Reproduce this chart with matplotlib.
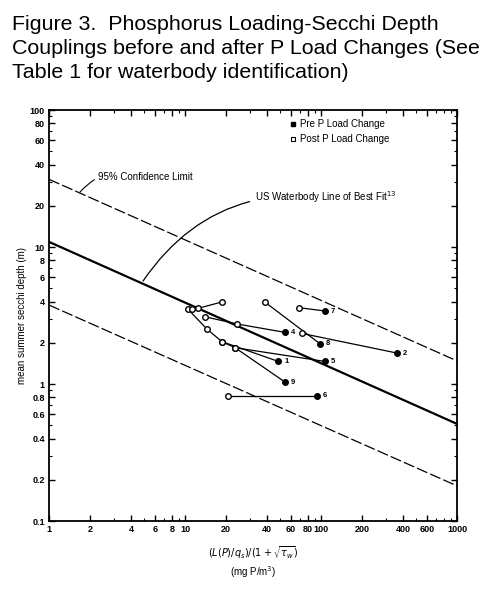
import numpy as np
import matplotlib.pyplot as plt
from matplotlib.ticker import FixedLocator, NullFormatter

plt.rcParams['font.family'] = ['Liberation Sans', 'DejaVu Sans']

# --- data --------------------------------------------------------------------
# reference lines (value at x=1 and x=1000)
line_x = [1, 1000]
best_fit_y = [10.9, 0.51]
upper_cl_y = [31.2, 1.47]
lower_cl_y = [3.77, 0.18]

# waterbody trajectories: open (post) points then the filled (pre) point
traj_labels = ['7', '8', '4', '2', '5', '1', '9', '6', '']
traj_x = [
    [68.1, 107],
    [38.7, 98.3],
    [13.9, 24.2, 54.4],
    [72.1, 362],
    [23.3, 107],
    [18.6, 48.5],
    [10.5, 14.4, 18.6, 23.3, 54.4],
    [20.6, 93],
    [12.5, 18.6],
]
traj_y = [
    [3.61, 3.41],
    [3.95, 1.96],
    [3.10, 2.74, 2.38],
    [2.34, 1.68],
    [1.84, 1.46],
    [2.04, 1.46],
    [3.51, 2.53, 2.04, 1.84, 1.03],
    [0.82, 0.82],
    [3.57, 3.97],
]
has_pre = [True, True, True, True, True, True, True, True, False]
extra_open_x = [11.3]
extra_open_y = [3.53]

y_major = [0.1, 0.2, 0.4, 0.6, 0.8, 1, 2, 4, 6, 8, 10, 20, 40, 60, 80, 100]
y_labels = ['0.1', '0.2', '0.4', '0.6', '0.8', '1', '2', '4', '6', '8',
            '10', '20', '40', '60', '80', '100']
x_major = [1, 2, 4, 6, 8, 10, 20, 40, 60, 80, 100, 200, 400, 600, 1000]
x_labels = ['1', '2', '4', '6', '8', '10', '20', '40', '60', '80', '100',
            '200', '400', '600', '1000']

# --- figure ------------------------------------------------------------------
fig = plt.figure(figsize=(4.94, 5.93), dpi=100)
ax = fig.add_axes([0.0992, 0.1214, 0.8267, 0.6931])
ax.set_xscale('log')
ax.set_yscale('log')
ax.set_xlim(1, 1000)
ax.set_ylim(0.1, 100)

ax.plot(line_x, best_fit_y, color='black', lw=1.6)
ax.plot(line_x, upper_cl_y, color='black', lw=0.9, dashes=(9, 2.5))
ax.plot(line_x, lower_cl_y, color='black', lw=0.9, dashes=(9, 2.5))

for xs, ys, lab, pre in zip(traj_x, traj_y, traj_labels, has_pre):
    ax.plot(xs, ys, color='black', lw=0.9)
    n_open = len(xs) - 1 if pre else len(xs)
    ax.plot(xs[:n_open], ys[:n_open], 'o', ms=4, mfc='white', mec='black', mew=1)
    if pre:
        ax.plot(xs[-1], ys[-1], 'o', ms=4, color='black')
        ax.text(xs[-1] * 1.1, ys[-1], lab, fontsize=5.5, fontweight='bold',
                va='center', ha='left')
ax.plot(extra_open_x, extra_open_y, 'o', ms=4, mfc='white', mec='black', mew=1)

# legend
ax.plot(62, 79, 's', ms=3, color='black')
ax.text(70, 79, 'Pre P Load Change', fontsize=7, va='center')
ax.plot(62, 61.4, 's', ms=3, mfc='white', mec='black', mew=0.8)
ax.text(70, 61.4, 'Post P Load Change', fontsize=7, va='center')

# annotations
ax.annotate('95% Confidence Limit', xy=(1.69, 25.2), xytext=(2.3, 32.4),
            fontsize=7, va='center',
            arrowprops=dict(arrowstyle='-', lw=0.8, color='black',
                            shrinkA=1, shrinkB=0,
                            connectionstyle='arc3,rad=0.35'))
ax.annotate('US Waterbody Line of Best Fit$^{13}$', xy=(4.91, 5.65),
            xytext=(32.7, 23.2), fontsize=7, va='center',
            arrowprops=dict(arrowstyle='-', lw=0.9, color='black',
                            shrinkA=2, shrinkB=0,
                            connectionstyle='arc3,rad=0.3'))

ax.yaxis.set_major_locator(FixedLocator(y_major))
ax.set_yticklabels(y_labels)
ax.xaxis.set_major_locator(FixedLocator(x_major))
ax.set_xticklabels(x_labels)
ax.xaxis.set_minor_formatter(NullFormatter())
ax.yaxis.set_minor_formatter(NullFormatter())
ax.tick_params(which='both', direction='in', top=True, right=True,
               labelsize=6.5, pad=3)
ax.tick_params(which='major', length=4, width=1)
ax.tick_params(which='minor', length=2.5, width=0.8)
for lbl in ax.get_xticklabels() + ax.get_yticklabels():
    lbl.set_fontweight('bold')
for sp in ax.spines.values():
    sp.set_linewidth(1.3)

ax.set_ylabel('mean summer secchi depth (m)', fontsize=7, labelpad=2)
fig.text(0.512, 0.068, r'$(L(P)/q_s)/(1+\sqrt{\tau_w})$', ha='center',
         va='center', fontsize=7)
fig.text(0.512, 0.035, r'(mg P/m$^3$)', ha='center', va='center', fontsize=7)

fig.text(0.024, 0.975, 'Figure 3.  Phosphorus Loading-Secchi Depth\n'
         'Couplings before and after P Load Changes (See\n'
         'Table 1 for waterbody identification)',
         ha='left', va='top', fontsize=15.4, linespacing=1.33)

fig.savefig('out.png', dpi=100)
